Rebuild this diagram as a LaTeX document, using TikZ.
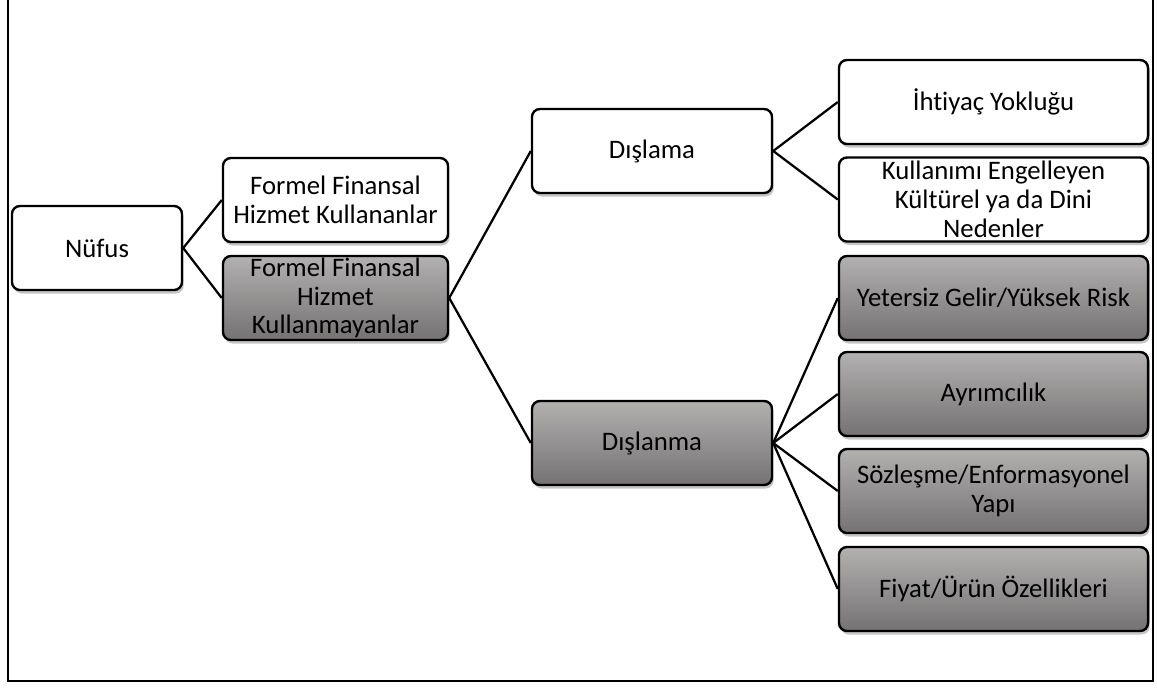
\documentclass[tikz,border=0pt]{standalone}
\usepackage{fontspec}
\setmainfont{Carlito}[Ligatures=NoCommon]
\usetikzlibrary{shadows}

\definecolor{grayTop}{HTML}{B3B0B0}
\definecolor{grayBot}{HTML}{747272}

\tikzset{
  box/.style={draw, line width=1.7pt, rounded corners=0.2cm, align=center,
    inner sep=0pt, minimum height=2.1cm,
    font=\fontsize{19}{20.5}\selectfont,
    drop shadow={opacity=0.45, shadow xshift=1.2pt, shadow yshift=-2.5pt}},
  whitebox/.style={box, fill=white},
  graybox/.style={box, top color=grayTop, bottom color=grayBot},
  link/.style={line width=1.6pt},
}

\begin{document}
\begin{tikzpicture}[x=0.025cm, y=-0.025cm]

	\useasboundingbox (0,0) rectangle (1157,692);
	\draw [line width=2pt] (8,-3) rectangle (1153,681);

	\node (nufus)[whitebox, minimum width=4.25cm] at (97,248) {Nüfus};
	\node (kullanan)[whitebox, minimum width=5.625cm] at (335.5,200) {Formel Finansal\\Hizmet Kullananlar};
	\node (kullanmayan)[graybox, minimum width=5.625cm] at (335.5,298) {Formel Finansal\\Hizmet\\Kullanmayanlar};

	\node (dislama)[whitebox, minimum width=6cm] at (652,151) {Dışlama};
	\node (dislanma)[graybox, minimum width=6cm] at (652,443) {Dışlanma};

	\node (ihtiyac)[whitebox, minimum width=7.725cm] at (993.5,102) {İhtiyaç Yokluğu};
	\node (kultur)[whitebox, minimum width=7.725cm] at (993.5,199.5) {Kullanımı Engelleyen\\Kültürel ya da Dini\\Nedenler};

	\node (gelir)[graybox, minimum width=7.725cm] at (993.5,298) {Yetersiz Gelir/Yüksek Risk};
	\node (ayrim)[graybox, minimum width=7.725cm] at (993.5,394) {Ayrımcılık};
	\node (sozlesme)[graybox, minimum width=7.725cm] at (993.5,491) {Sözleşme/Enformasyonel\\Yapı};
	\node (fiyat)[graybox, minimum width=7.725cm] at (993.5,589) {Fiyat/Ürün Özellikleri};

	\draw [link] (nufus.east) -- (kullanan.west);
	\draw [link] (nufus.east) -- (kullanmayan.west);

	\draw [link] (kullanmayan.east) -- (dislama.west);
	\draw [link] (kullanmayan.east) -- (dislanma.west);

	\draw [link] (dislama.east) -- (ihtiyac.west);
	\draw [link] (dislama.east) -- (kultur.west);

	\draw [link] (dislanma.east) -- (gelir.west);
	\draw [link] (dislanma.east) -- (ayrim.west);
	\draw [link] (dislanma.east) -- (sozlesme.west);
	\draw [link] (dislanma.east) -- (fiyat.west);

\end{tikzpicture}
\end{document}
